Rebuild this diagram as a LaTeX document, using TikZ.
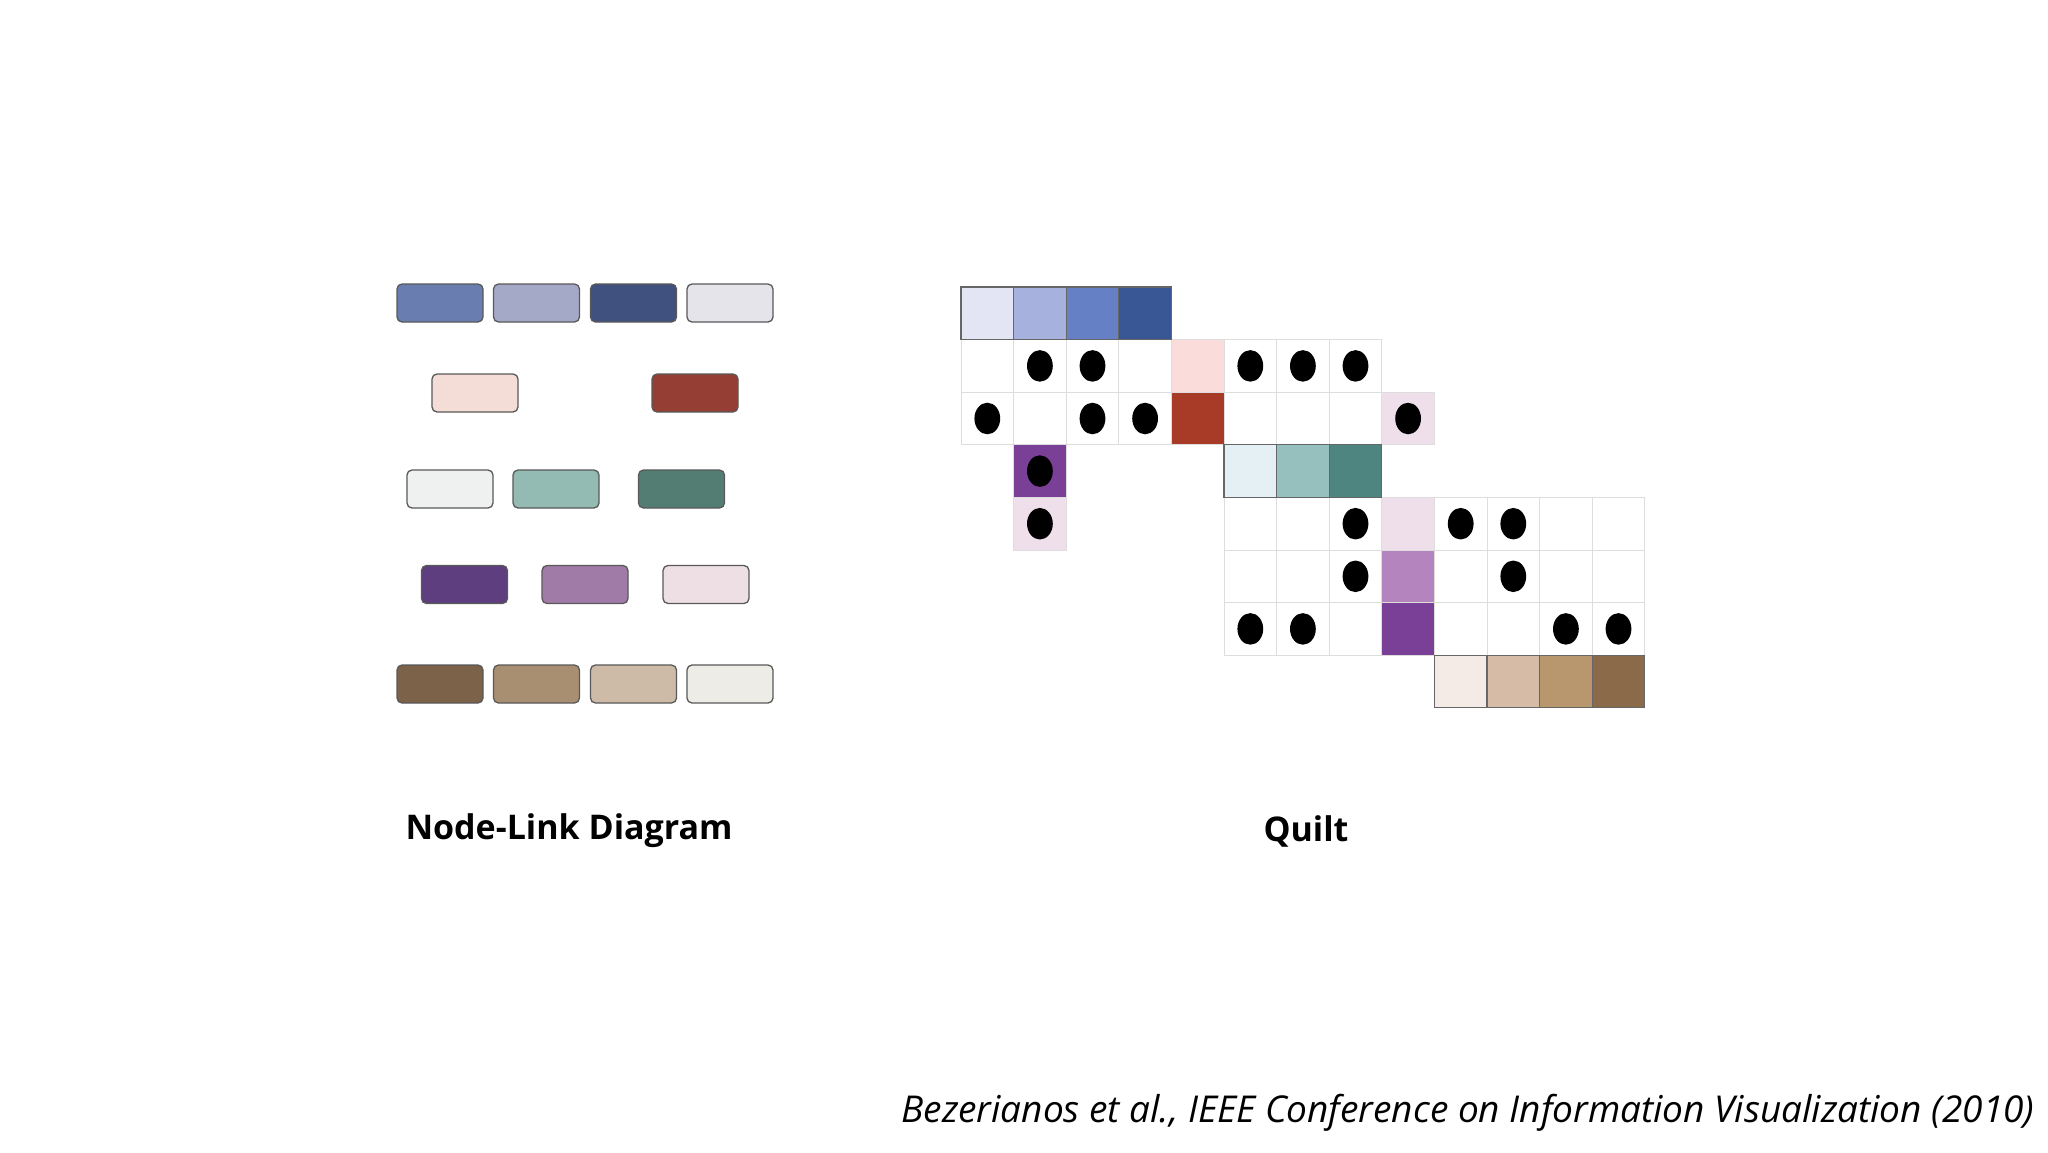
\documentclass[tikz,border=0pt]{standalone}
\usepackage{fontspec}
\setmainfont{Open Sans}
\usetikzlibrary{arrows.meta,backgrounds}
\definecolor{lg}{HTML}{DDDDDD}
\tikzset{
  hx/.code={\definecolor{tmpc}{HTML}{#1}\pgfkeysalso{/tikz/fill=tmpc}},
  box/.style={draw=black!65,line width=1.3pt,rounded corners=5pt,minimum width=86pt,minimum height=38pt,inner sep=0pt},
  link/.style={draw=black!65,line width=1.4pt,-{Straight Barb[length=6pt,width=8pt,line width=1.2pt]}},
  cell/.style={draw=lg,line width=0.8pt},
  hdr/.style={draw=black!60,line width=1.2pt},
  dot/.style={fill=black,draw=none},
  ttl/.style={font=\fontsize{34}{40}\selectfont\bfseries},
}
\begin{document}
\begin{tikzpicture}[x=1pt,y=-1pt]
\useasboundingbox (0,0) rectangle (2048,1152);
\fill[white] (0,0) rectangle (2048,1152);
% node-link diagram
\node[box,hx=6A7DB0] (T1) at (440,303) {};
\node[box,hx=A4A9C8] (T2) at (536.5,303) {};
\node[box,hx=41517F] (T3) at (633.5,303) {};
\node[box,hx=E4E4EA] (T4) at (730,303) {};
\node[box,hx=F3DDD6] (A) at (475,393) {};
\node[box,hx=953E34] (R) at (695,393) {};
\node[box,hx=EEF1F0] (L1) at (450,489) {};
\node[box,hx=93BBB4] (L2) at (556,489) {};
\node[box,hx=537D72] (L3) at (681.5,489) {};
\node[box,hx=5E3E7E] (P1) at (464.5,584.5) {};
\node[box,hx=A17BA7] (P2) at (585,584.5) {};
\node[box,hx=EDDFE4] (P3) at (706,584.5) {};
\node[box,hx=7B6248] (B1) at (440,684) {};
\node[box,hx=A98F71] (B2) at (536.5,684) {};
\node[box,hx=CDBBA8] (B3) at (633.5,684) {};
\node[box,hx=EEECE6] (B4) at (730,684) {};
\coordinate (k1) at (487,467);
\coordinate (m1) at (608.3,366.7);
\coordinate (m2) at (608.3,415);
\coordinate (m3) at (745,463.3);
\coordinate (m4) at (745,516.7);
\coordinate (r1) at (765,461.7);
\coordinate (r2) at (765,515);
\begin{scope}[on background layer]
\draw[link] ([xshift=-3pt]T1.south) -- (A.north);
\draw[link] ([xshift=-3pt]T1.south) -- (R.north);
\draw[link] (T2.south) -- (A.north);
\draw[link] (T2.south) -- (k1) -- (P1.north);
\draw[link] (T2.south) -- (m1) -- (m2) -- (m3) -- (m4) -- (P3.north);
\draw[link] (T3.south) -- (R.north);
\draw[link] (T4.south) -- (R.north);
\draw[link] (R.south) -- (r1) -- (r2) -- (P3.north);
\draw[link] (A.south) -- (L1.north);
\draw[link] (A.south) -- (L2.north);
\draw[link] (A.south) -- (L3.north);
\draw[link] (L1.south) -- (P1.north);
\draw[link] (L2.south) -- (P1.north);
\draw[link] (L3.south) -- (P2.north);
\draw[link] (L3.south) -- (P3.north);
\draw[link] (P1.south) -- (B1.north);
\draw[link] (P1.south) -- (B2.north);
\draw[link] (P2.south) -- (B3.north);
\draw[link] (P3.south) -- (B3.north);
\draw[link] (P3.south) -- (B4.north);
\end{scope}
% quilt
\begin{scope}[shift={(961,287)},x=52.6pt,y=-52.6pt]
\foreach \r/\c in {1/0,1/1,1/2,1/3,1/5,1/6,1/7,2/0,2/1,2/2,2/3,2/5,2/6,2/7,
  4/5,4/6,4/7,4/9,4/10,4/11,4/12,5/5,5/6,5/7,5/9,5/10,5/11,5/12,6/5,6/6,6/7,6/9,6/10,6/11,6/12}
  \draw[cell,fill=white] (\c,\r) rectangle ++(1,1);
\foreach \r/\c/\col in {1/4/FADCDA,2/4/A83A28,2/8/EEDFEA,3/1/7A3F96,4/1/EEDFEA,4/8/EEDFEA,5/8/B384BD,6/8/7A3F96}
  \draw[cell,hx=\col] (\c,\r) rectangle ++(1,1);
\foreach \c/\col in {0/E3E5F5,1/A6B1DD,2/6580C4,3/3A5795}
  \draw[hdr,hx=\col] (\c,0) rectangle ++(1,1);
\foreach \c/\col in {5/E5F0F4,6/96C0BE,7/4E8580}
  \draw[hdr,hx=\col] (\c,3) rectangle ++(1,1);
\foreach \c/\col in {9/F4EAE6,10/D6BBA6,11/B8976F,12/8A6A48}
  \draw[hdr,hx=\col] (\c,7) rectangle ++(1,1);
\foreach \r/\c in {1/1,1/2,1/5,1/6,1/7,2/0,2/2,2/3,2/8,3/1,4/1,4/7,4/9,4/10,5/7,5/10,6/5,6/6,6/11,6/12}
  \fill[dot] (\c+0.5,\r+0.5) ellipse [x radius=0.245, y radius=0.3];
\end{scope}
% titles
\node[ttl,anchor=west] (t1) at (402,831) {Node-Link Diagram};
\node[ttl] (t2) at (1306,831) {Quilt};
\node[anchor=east,font=\fontsize{37}{44}\selectfont\itshape] (cap) at (2038,1113) {Bezerianos et al., IEEE Conference on Information Visualization (2010)};
\end{tikzpicture}
\end{document}
